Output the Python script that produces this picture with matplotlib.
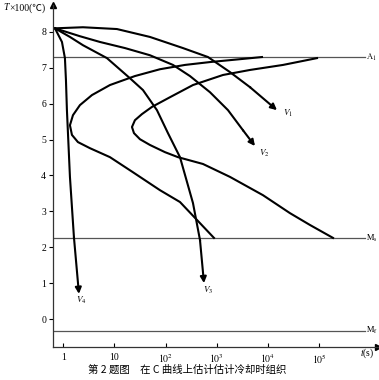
import matplotlib as mpl
import matplotlib.pyplot as plt
import numpy as np

mpl.rcParams['font.family'] = ['Liberation Serif', 'Noto Sans CJK SC', 'DejaVu Sans']
mpl.rcParams['mathtext.fontset'] = 'stix'

#######
# Data: log10(t / s) and T (x100 C)

A1 = 7.30
Ms = 2.26
Mf = -0.33

# transformation start curve (left C), from A1 down to Ms
start_lt = [3.883, 3.453, 2.867, 2.378, 1.890, 1.401, 0.913, 0.561, 0.326, 0.190,
            0.131, 0.170, 0.287, 0.522, 0.913, 1.362, 1.890, 2.281, 2.613, 2.945]
start_T = [7.30, 7.24, 7.16, 7.08, 6.96, 6.77, 6.52, 6.24, 5.96, 5.68,
           5.40, 5.13, 4.93, 4.76, 4.51, 4.09, 3.59, 3.26, 2.76, 2.26]

# transformation finish curve (right C)
finish_lt = [4.958, 4.294, 3.649, 3.121, 2.535, 2.085, 1.733, 1.538, 1.401, 1.343,
             1.382, 1.499, 1.694, 1.987, 2.242, 2.730, 3.258, 3.903, 4.430, 4.821, 5.271]
finish_T = [7.27, 7.08, 6.94, 6.80, 6.52, 6.18, 5.91, 5.71, 5.54, 5.35,
            5.18, 5.01, 4.85, 4.65, 4.51, 4.32, 3.96, 3.45, 2.95, 2.62, 2.26]

# cooling curves
v1_lt = [-0.162, 0.385, 1.049, 1.694, 2.339, 2.828, 3.258, 3.649, 4.176]
v1_T = [8.10, 8.13, 8.08, 7.86, 7.55, 7.30, 6.88, 6.46, 5.82]

v2_lt = [-0.162, 0.326, 0.717, 1.206, 1.694, 2.144, 2.476, 2.867, 3.219, 3.512, 3.746]
v2_T = [8.10, 7.88, 7.72, 7.55, 7.35, 7.08, 6.77, 6.32, 5.82, 5.26, 4.82]

v3_lt = [-0.162, 0.131, 0.385, 0.854, 1.303, 1.558, 1.831, 2.046, 2.281, 2.535, 2.672, 2.750]
v3_T = [8.10, 7.86, 7.63, 7.27, 6.71, 6.38, 5.82, 5.18, 4.51, 3.23, 2.20, 1.00]

v4_lt = [-0.162, -0.025, 0.033, 0.053, 0.072, 0.131, 0.209, 0.307]
v4_T = [8.10, 7.72, 7.27, 6.66, 5.82, 3.96, 2.28, 0.70]

v_labels = ["$V_1$", "$V_2$", "$V_3$", "$V_4$"]

xticks = [1, 10, 1e2, 1e3, 1e4, 1e5]
xticklabels = ["1", "10", "$10^2$", "$10^3$", "$10^4$", "$10^5$"]
yticks = [0, 1, 2, 3, 4, 5, 6, 7, 8]

#######
# Plot

fig = plt.figure(figsize=(3.79, 3.80), dpi=100)
ax = fig.add_axes([53/379, 33/380, 325/379, 342/380])

ax.set_xscale('log')
ax.set_xlim(10**-0.2, 10**6.15)
ax.set_ylim(-0.78, 8.75)

for s in ['top', 'right']:
    ax.spines[s].set_visible(False)
for s in ['left', 'bottom']:
    ax.spines[s].set_color('#333333')
    ax.spines[s].set_linewidth(0.9)

# axis arrows
ax.plot(1, 0, marker='>', color='k', markersize=5, transform=ax.transAxes, clip_on=False)
ax.plot(0, 1, marker='^', color='k', markersize=5, transform=ax.transAxes, clip_on=False)

# critical temperature lines
line_end = 10**5.9
for val, lab in [(A1, r"$\mathrm{A_1}$"), (Ms, r"$\mathrm{M_s}$"), (Mf, r"$\mathrm{M_f}$")]:
    ax.plot([10**-0.2, line_end], [val, val], color='#555555', lw=0.9)
    ax.text(10**5.92, val, lab, fontsize=6, va='center', ha='left')

lw = 1.5
ax.plot(10**np.array(start_lt), start_T, color='k', lw=lw)
ax.plot(10**np.array(finish_lt), finish_T, color='k', lw=lw)

curves = [(v1_lt, v1_T), (v2_lt, v2_T), (v3_lt, v3_T), (v4_lt, v4_T)]
label_off = [(4, -2), (3, -5), (-1, -5), (-2, -5)]   # points from arrow tip
for (lt, T), lab, off in zip(curves, v_labels, label_off):
    t = 10**np.array(lt)
    ax.plot(t[:-1], T[:-1], color='k', lw=lw)
    ax.annotate('', xy=(t[-1], T[-1]), xytext=(t[-2], T[-2]),
                arrowprops=dict(arrowstyle='-|>', color='k', lw=lw, mutation_scale=9,
                                shrinkA=0, shrinkB=0))
    ax.annotate(lab, xy=(t[-1], T[-1]), xytext=off, textcoords='offset points',
                fontsize=6.5, ha='left', va='center')

ax.set_xticks(xticks)
ax.set_xticklabels(xticklabels)
ax.minorticks_off()
ax.tick_params(axis='x', direction='in', length=3, width=0.8, labelsize=7, pad=4)
ax.set_yticks(yticks)
ax.tick_params(axis='y', direction='out', length=3, width=0.8, labelsize=7, pad=2)

fig.text(3/379, 1 - 8/380, "T", fontsize=7, ha='left', va='center', style='italic')
fig.text(9/379, 1 - 8/380, "×100(℃)", fontsize=7, ha='left', va='center',
         family=['Liberation Serif', 'Noto Sans CJK SC', 'DejaVu Sans'])
fig.text(360/379, 1 - 353/380, r"$t$(s)", fontsize=7, ha='left', va='center')
fig.text(187/379, 1 - 370/380, "第 2 题图　在 C 曲线上估计估计冷却时组织",
         fontsize=7.5, ha='center', va='center', family=['Noto Sans CJK SC', 'DejaVu Sans'])

fig.savefig("out.png", dpi=100)
